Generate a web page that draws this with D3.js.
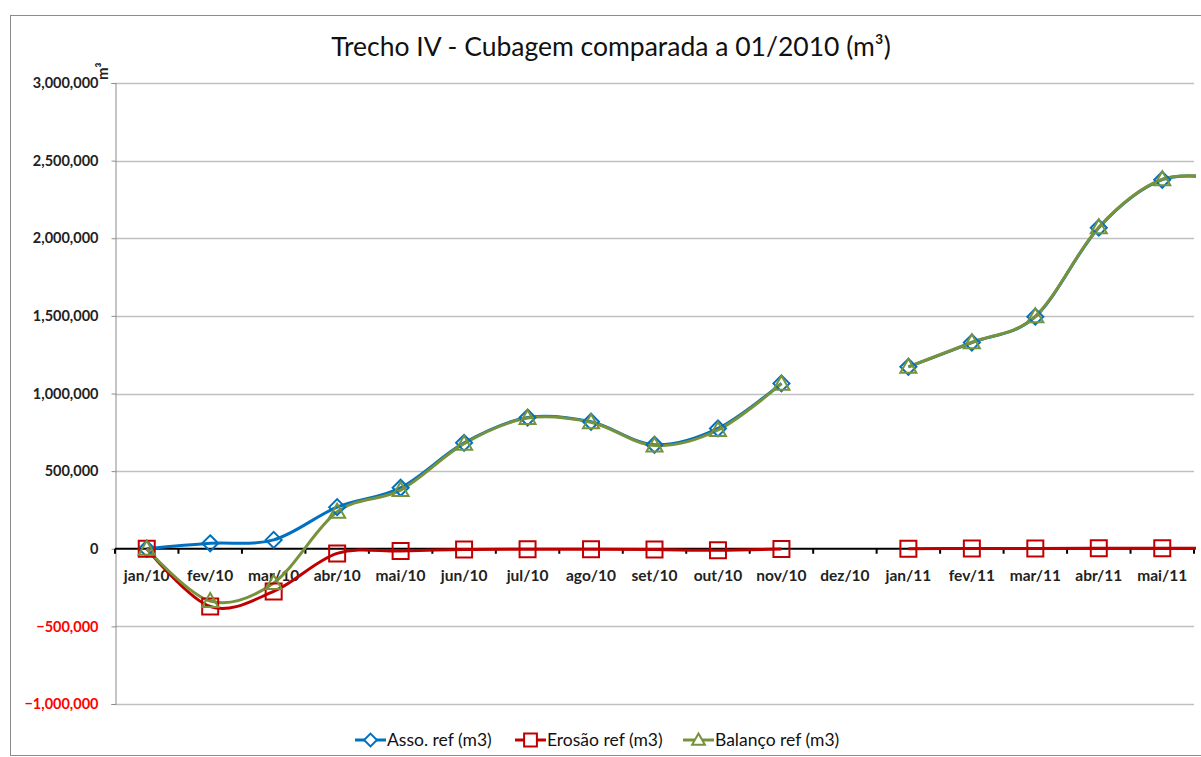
<!DOCTYPE html>
<html>
<head>
<meta charset="utf-8">
<script src="https://cdn.jsdelivr.net/npm/d3@7"></script>
<style>
  html, body { margin: 0; padding: 0; background: #fff; }
  svg { display: block; font-family: Lato, "Open Sans", sans-serif; }
</style>
</head>
<body>
<div id="chart"></div>
<script>
// ─── Data ────────────────────────────────────────────────────────────────
const months = ['jan/10', 'fev/10', 'mar/10', 'abr/10', 'mai/10', 'jun/10', 'jul/10', 'ago/10',
                'set/10', 'out/10', 'nov/10', 'dez/10', 'jan/11', 'fev/11', 'mar/11', 'abr/11', 'mai/11'];
// jun/11 lies outside the visible plot, only its curve entry is seen
const extraMonths = ['jun/11'];

const asso    = [0, 35000, 57000, 268000, 393000, 682000, 845000, 818000, 670000, 775000, 1065000, null,
                 1172000, 1328000, 1495000, 2068000, 2377000, 2378000];
const erosao  = [0, -372000, -275000, -30000, -15000, -5000, -3000, -3000, -5000, -10000, -2000, null,
                 0, 2000, 2000, 3000, 3000, 3000];
const balanco = [0, -337000, -220000, 238000, 378000, 677000, 842000, 815000, 665000, 765000, 1063000, null,
                 1172000, 1330000, 1497000, 2071000, 2380000, 2381000];

const yTicks = [-1000000, -500000, 0, 500000, 1000000, 1500000, 2000000, 2500000, 3000000];

const series = [
  { name: 'Asso. ref (m3)',    values: asso,    color: '#0070c0', marker: 'diamond' },
  { name: 'Erosão ref (m3)',   values: erosao,  color: '#c00000', marker: 'square' },
  { name: 'Balanço ref (m3)',  values: balanco, color: '#76923c', marker: 'triangle' }
];

// ─── Layout ──────────────────────────────────────────────────────────────
const W = 1201, H = 757;
const plot = { left: 115, right: 1194, top: 83, bottom: 704 };

const svg = d3.select('#chart').append('svg').attr('width', W).attr('height', H);

// outer chart frame
svg.append('rect')
  .attr('x', 10.5).attr('y', 15.5)
  .attr('width', W).attr('height', H - 17)
  .attr('fill', '#fff').attr('stroke', '#8c8c8c').attr('stroke-width', 1);

const x = d3.scaleLinear().domain([-0.5, months.length - 0.5]).range([plot.left, plot.right]);
const y = d3.scaleLinear().domain([-1000000, 3000000]).range([plot.bottom, plot.top]);

// Title
svg.append('text')
  .attr('x', 611).attr('y', 56)
  .attr('text-anchor', 'middle')
  .style('font-size', '26.5px')
  .style('fill', '#111')
  .text('Trecho IV - Cubagem comparada a 01/2010 (m³)');

// Gridlines
svg.append('g')
  .selectAll('line')
  .data(yTicks.filter(v => v !== 0))
  .enter().append('line')
  .attr('x1', plot.left).attr('x2', plot.right)
  .attr('y1', d => Math.round(y(d)) + 0.5).attr('y2', d => Math.round(y(d)) + 0.5)
  .attr('stroke', '#c0c0c0').attr('stroke-width', 1.3);

// Y axis
const yAxis = svg.append('g')
  .attr('transform', `translate(${plot.left + 0.5},0)`)
  .call(d3.axisLeft(y).tickValues(yTicks).tickSize(4).tickFormat(d3.format(',')));
yAxis.select('.domain').attr('stroke', '#8c8c8c');
yAxis.selectAll('.tick line').attr('stroke', '#8c8c8c');
yAxis.selectAll('.tick text')
  .attr('x', -17)
  .style('font-size', '14.5px')
  .style('font-weight', 'bold')
  .style('font-family', 'Lato, sans-serif')
  .style('fill', d => d < 0 ? '#ff0000' : '#222');

// Unit label
svg.append('text')
  .attr('transform', 'translate(108,80) rotate(-90)')
  .style('font-size', '15px')
  .style('font-weight', 'bold')
  .style('fill', '#222')
  .text('m³');

// X axis at zero
const xAxisG = svg.append('g').attr('transform', `translate(0,${y(0)})`);
xAxisG.append('line')
  .attr('x1', plot.left).attr('x2', plot.right)
  .attr('stroke', '#000').attr('stroke-width', 2);
xAxisG.selectAll('.xtick')
  .data(d3.range(months.length + 1))
  .enter().append('line')
  .attr('class', 'xtick')
  .attr('x1', d => x(d - 0.5)).attr('x2', d => x(d - 0.5))
  .attr('y1', 0).attr('y2', 5)
  .attr('stroke', '#000').attr('stroke-width', 2);
xAxisG.selectAll('.xlabel')
  .data(months)
  .enter().append('text')
  .attr('class', 'xlabel')
  .attr('x', (d, i) => x(i)).attr('y', 32)
  .attr('text-anchor', 'middle')
  .style('font-size', '15.5px')
  .style('font-weight', 'bold')
  .style('fill', '#222')
  .text(d => d);

// Clip to plot area
svg.append('clipPath').attr('id', 'plotClip')
  .append('rect')
  .attr('x', plot.left).attr('y', plot.top - 20)
  .attr('width', plot.right - plot.left + 2).attr('height', plot.bottom - plot.top + 40);

const allMonths = months.concat(extraMonths);
const line = d3.line()
  .defined(d => d.v !== null)
  .x(d => x(d.i))
  .y(d => y(d.v))
  .curve(d3.curveCardinal.tension(0));

const markerPath = {
  diamond: 'M0,-8L8,0L0,8L-8,0Z',
  square: 'M-8,-8H8V8H-8Z',
  triangle: 'M0,-8L8,6H-8Z'
};

const layer = svg.append('g').attr('clip-path', 'url(#plotClip)');
series.forEach(s => {
  const pts = s.values.map((v, i) => ({ i, v, m: allMonths[i] }));
  layer.append('path')
    .datum(pts)
    .attr('d', line)
    .attr('fill', 'none')
    .attr('stroke', s.color)
    .attr('stroke-width', 3)
    .attr('stroke-linejoin', 'round');
});
series.forEach(s => {
  const pts = s.values.map((v, i) => ({ i, v })).filter(d => d.v !== null && d.i < months.length);
  layer.selectAll(null)
    .data(pts)
    .enter().append('path')
    .attr('transform', d => `translate(${x(d.i)},${y(d.v)})`)
    .attr('d', markerPath[s.marker])
    .attr('fill', 'none')
    .attr('stroke', s.color)
    .attr('stroke-width', 2);
});

// Legend
const legendX = [355, 515, 683];
const legend = svg.append('g').attr('transform', 'translate(0,740)');
series.forEach((s, k) => {
  const g = legend.append('g').attr('transform', `translate(${legendX[k]},0)`);
  g.append('line').attr('x1', 0).attr('x2', 31)
    .attr('stroke', s.color).attr('stroke-width', 3);
  g.append('path')
    .attr('transform', 'translate(15.5,0) scale(0.8)')
    .attr('d', markerPath[s.marker])
    .attr('fill', '#fff')
    .attr('stroke', s.color).attr('stroke-width', 2.5);
  g.append('text')
    .attr('x', 32).attr('y', 6)
    .style('font-size', '17.5px')
    .style('fill', '#111')
    .text(s.name);
});
</script>
</body>
</html>
